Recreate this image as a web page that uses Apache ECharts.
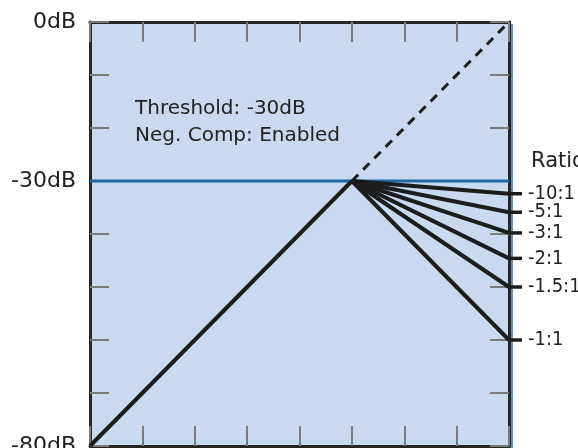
<!DOCTYPE html>
<html><head><meta charset="utf-8">
<script src="https://cdn.jsdelivr.net/npm/echarts@6/dist/echarts.min.js"></script>
<style>html,body{margin:0;padding:0;background:#fff}#c{width:578px;height:448px}</style>
</head><body><div id="c"></div>
<script>
// Data
const axisMin = -80, axisMax = 0, axisStep = 10;
const yTickLabels = {0: '0dB', '-30': '-30dB', '-80': '-80dB'};
const threshold = -30;
const ratioNames = ['-10:1', '-5:1', '-3:1', '-2:1', '-1.5:1', '-1:1'];
const ratioOutputAt0 = [-32.4, -35.9, -39.8, -44.6, -50, -60];
const unityBelow = [[-80, -80], [-30, -30]];
const unityAbove = [[-30, -30], [0, 0]];
const annotLines = ['Threshold: -30dB', 'Neg. Comp: Enabled'];
const ratioTitle = 'Ratio';

const FONT = '"DejaVu Sans", sans-serif';
const FONT_C = '"DejaVu Sans Condensed", "Liberation Sans Narrow", "DejaVu Sans", sans-serif';
const chart = echarts.init(document.getElementById('c'), null, {renderer: 'canvas'});

function mkX(pos) {
  return {
    type: 'value', gridIndex: 0, min: axisMin, max: axisMax, interval: axisStep, position: pos,
    axisLine: {show: true, onZero: false, lineStyle: {color: '#262626', width: 3}},
    axisTick: {show: true, inside: true, length: 20, lineStyle: {color: '#7a7a7a', width: 2}},
    axisLabel: {show: false}, splitLine: {show: false}
  };
}
function mkY(pos, labels) {
  return {
    type: 'value', gridIndex: 0, min: axisMin, max: axisMax, interval: axisStep, position: pos,
    axisLine: {show: true, onZero: false, lineStyle: {color: '#262626', width: 3}},
    axisTick: {show: true, inside: true, length: 19, lineStyle: {color: '#7a7a7a', width: 2}},
    axisLabel: labels ? {
      show: true, margin: 14, fontSize: 22, color: '#222', fontFamily: FONT,
      showMinLabel: true, showMaxLabel: true, hideOverlap: false,
      formatter: v => yTickLabels[String(v)] || ''
    } : {show: false},
    splitLine: {show: false}
  };
}

const series = [];
series.push({
  type: 'line', data: [[axisMin, threshold], [axisMax, threshold]], symbol: 'none',
  lineStyle: {color: '#1f69a6', width: 3}, z: 2, silent: true
});
series.push({
  type: 'line', data: unityBelow, symbol: 'none',
  lineStyle: {color: '#1c1c1c', width: 4}, z: 4, silent: true
});
series.push({
  type: 'line', data: unityAbove, symbol: 'none',
  lineStyle: {color: '#1c1c1c', width: 3, type: [9, 7]}, z: 4, silent: true
});
ratioNames.forEach((n, i) => {
  series.push({
    type: 'line', name: n, symbol: 'none', z: 5, silent: true,
    data: [[threshold, threshold], [0, ratioOutputAt0[i]]],
    lineStyle: {color: '#1c1c1c', width: 4}
  });
  // short horizontal leader outside the frame, in the side strip
  series.push({
    type: 'line', name: n, symbol: 'none', z: 5, silent: true, clip: false,
    xAxisIndex: 2, yAxisIndex: 2,
    data: [[0, ratioOutputAt0[i]], [1, ratioOutputAt0[i]]],
    lineStyle: {color: '#1c1c1c', width: 3.5},
    endLabel: {show: true, formatter: '{a}', distance: 6, fontSize: 20, color: '#222', fontFamily: FONT_C}
  });
});

chart.setOption({
  animation: false,
  grid: [{
    left: 90, right: 69, top: 22, bottom: 2, show: true, outerBoundsMode: 'none', containLabel: false,
    backgroundColor: '#c9d9ef', borderWidth: 0,
    shadowColor: '#6e8fae', shadowOffsetX: 4, shadowOffsetY: 2, shadowBlur: 0
  }, {
    left: 509, right: 56, top: 22, bottom: 2, show: false, outerBoundsMode: 'none', containLabel: false
  }],
  xAxis: [mkX('bottom'), mkX('top'),
    {type: 'value', gridIndex: 1, min: 0, max: 1, show: false}],
  yAxis: [mkY('left', true), mkY('right', false),
    {type: 'value', gridIndex: 1, min: axisMin, max: axisMax, show: false}],
  series: series,
  graphic: [
    {type: 'text', x: 135, y: 109, style: {text: annotLines[0], fontSize: 20, fill: '#222', fontFamily: FONT, verticalAlign: 'middle'}},
    {type: 'text', x: 135, y: 136, style: {text: annotLines[1], fontSize: 20, fill: '#222', fontFamily: FONT, verticalAlign: 'middle'}},
    {type: 'text', x: 531, y: 162, style: {text: ratioTitle, fontSize: 21, fill: '#222', fontFamily: FONT, verticalAlign: 'middle'}}
  ]
});
</script></body></html>
